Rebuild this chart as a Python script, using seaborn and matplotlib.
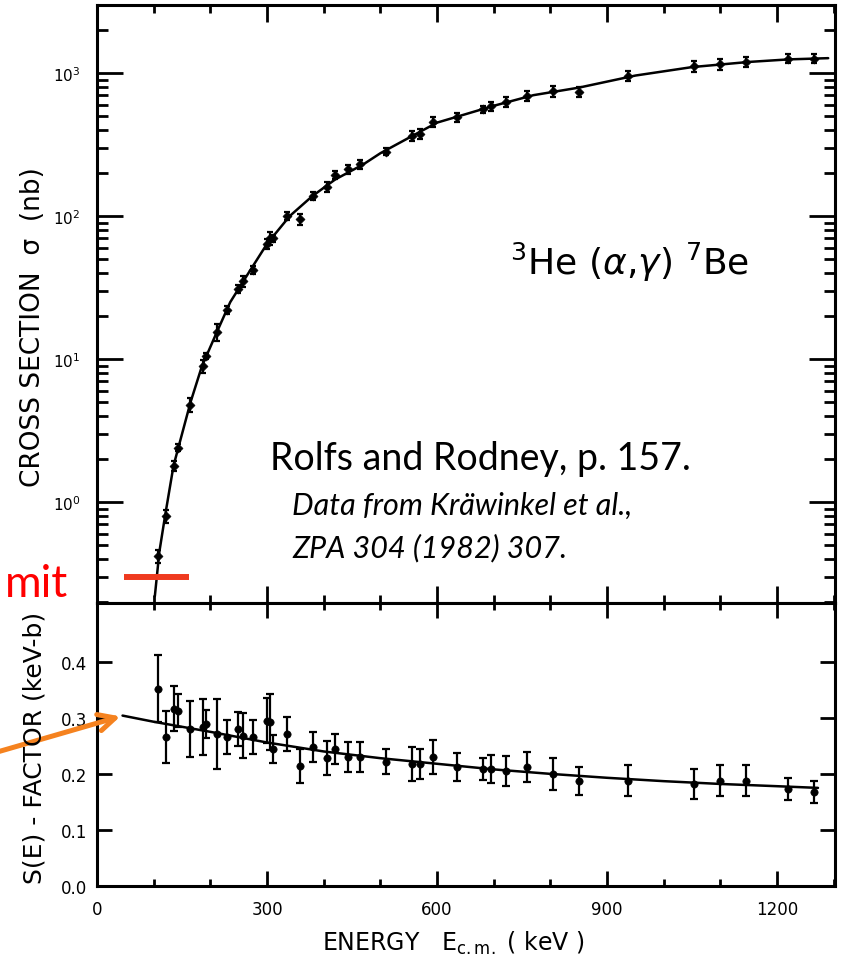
import numpy as np
import matplotlib
matplotlib.use("Agg")
import matplotlib.pyplot as plt
import seaborn as sns
from matplotlib.ticker import (LogLocator, MultipleLocator, FixedLocator,
                               NullFormatter, LogFormatterMathtext,
                               FormatStrFormatter)


# data (Kräwinkel et al. 1982)
energy = [108, 122, 136, 143, 164, 187, 192, 211, 230, 249, 258, 275, 300, 305,
          311, 335, 358, 381, 406, 420, 443, 464, 510, 556, 570, 593, 635, 681,
          695, 722, 759, 805, 850, 937, 1054, 1099, 1145, 1219, 1265]

sigma = [0.42, 0.80, 1.8, 2.4, 4.8, 8.9, 10.5, 15.5, 22, 31, 35, 42, 64, 70,
         70, 100, 95, 138, 160, 195, 212, 230, 282, 362, 375, 457, 490, 560,
         585, 631, 692, 745, 740, 955, 1120, 1150, 1200, 1260, 1260]

s_factor = [0.352, 0.266, 0.316, 0.313, 0.280, 0.284, 0.289, 0.271, 0.266, 0.280,
            0.268, 0.266, 0.295, 0.293, 0.245, 0.271, 0.214, 0.248, 0.228, 0.245,
            0.230, 0.230, 0.222, 0.218, 0.218, 0.230, 0.212, 0.209, 0.209, 0.205,
            0.212, 0.200, 0.188, 0.188, 0.182, 0.188, 0.188, 0.173, 0.168]

s_err = [0.060, 0.047, 0.040, 0.030, 0.050, 0.050, 0.025, 0.062, 0.030, 0.030,
         0.040, 0.030, 0.040, 0.050, 0.025, 0.030, 0.030, 0.027, 0.030, 0.027,
         0.027, 0.027, 0.022, 0.030, 0.027, 0.030, 0.025, 0.020, 0.025, 0.027,
         0.027, 0.028, 0.025, 0.027, 0.027, 0.027, 0.027, 0.020, 0.020]

# fitted curves
curve_e = [102, 110, 120, 135, 150, 165, 185, 210, 235, 260, 300, 340, 380, 420,
           470, 500, 560, 600, 650, 700, 770, 850, 950, 1050, 1150, 1220, 1290]
curve_sigma = [0.22, 0.45, 0.8, 1.8, 3.0, 5.0, 8.9, 15, 25, 36, 64, 100, 138, 180,
               230, 275, 370, 450, 515, 590, 700, 790, 960, 1100, 1195, 1245, 1270]

curve_s_e = [45, 100, 200, 300, 400, 500, 600, 700, 800, 900, 1000, 1100, 1200, 1272]
curve_s = [0.304, 0.293, 0.275, 0.256, 0.240, 0.228, 0.218, 0.208, 0.200, 0.193,
           0.187, 0.182, 0.178, 0.175]

s_ticks = [0.0, 0.1, 0.2, 0.3, 0.4]

# annotations
limit_e = [48, 162]
limit_sigma = [0.3, 0.3]
arrow_tip = (46, 0.304)
arrow_tail = (-200, 0.232)


sns.set_theme(style="ticks")
plt.rcParams["font.family"] = ["DejaVu Sans"]
plt.rcParams["axes.linewidth"] = 2.2
plt.rcParams["text.color"] = "black"
plt.rcParams["axes.edgecolor"] = "black"
plt.rcParams["xtick.color"] = "black"
plt.rcParams["ytick.color"] = "black"

fig = plt.figure(figsize=(8.43, 9.62), dpi=100)
ax1 = fig.add_axes([0.1151, 0.3721, 0.8754, 0.6217])
ax2 = fig.add_axes([0.1151, 0.0780, 0.8754, 0.2942])


# cross section panel
rel = np.array(s_err) / np.array(s_factor)
sig = np.array(sigma)
ax1.errorbar(energy, sig, yerr=[sig * rel * 0.6, sig * rel * 0.6], fmt="none",
             ecolor="black", elinewidth=1.6, capsize=2.5, capthick=1.6)
sns.lineplot(x=curve_e, y=curve_sigma, ax=ax1, color="black", lw=1.8,
             sort=False, estimator=None)
sns.scatterplot(x=energy, y=sigma, ax=ax1, color="black", marker="D", s=22,
                edgecolor="black", zorder=3)

ax1.plot(limit_e, limit_sigma, color="#ef3a1f", lw=4.3, solid_capstyle="butt")

ax1.set_yscale("log")
ax1.set_xlim(0, 1302)
ax1.set_ylim(0.197, 2990)
ax1.yaxis.set_major_locator(LogLocator(base=10, numticks=10))
ax1.yaxis.set_minor_locator(LogLocator(base=10, subs=np.arange(2, 10), numticks=20))
ax1.yaxis.set_major_formatter(LogFormatterMathtext())
ax1.yaxis.set_minor_formatter(NullFormatter())
ax1.xaxis.set_major_locator(MultipleLocator(300))
ax1.xaxis.set_minor_locator(MultipleLocator(100))

ax1.tick_params(which="both", direction="in", top=True, right=True,
                labelbottom=False, width=2)
ax1.tick_params(axis="y", which="major", length=19, labelsize=11, pad=12)
ax1.tick_params(axis="y", which="minor", length=8)
ax1.tick_params(axis="x", which="major", length=12)
ax1.tick_params(axis="x", which="minor", length=6)
ax1.set_xlabel("")
ax1.set_ylabel("")


# S-factor panel
ax2.errorbar(energy, s_factor, yerr=s_err, fmt="none", ecolor="black",
             elinewidth=1.6, capsize=3, capthick=1.6)
sns.lineplot(x=curve_s_e, y=curve_s, ax=ax2, color="black", lw=1.8,
             sort=False, estimator=None)
sns.scatterplot(x=energy, y=s_factor, ax=ax2, color="black", marker="o", s=28,
                edgecolor="black", zorder=3)

ax2.set_xlim(0, 1302)
ax2.set_ylim(0, 0.505)
ax2.xaxis.set_major_locator(MultipleLocator(300))
ax2.xaxis.set_minor_locator(MultipleLocator(100))
ax2.yaxis.set_major_locator(FixedLocator(s_ticks))
ax2.yaxis.set_major_formatter(FormatStrFormatter("%.1f"))

ax2.tick_params(which="both", direction="in", top=True, right=True, width=2)
ax2.tick_params(axis="y", which="major", length=11, labelsize=12, pad=7)
ax2.tick_params(axis="x", which="major", length=11, labelsize=12, pad=10)
ax2.tick_params(axis="x", which="minor", length=5)
ax2.set_xlabel("")
ax2.set_ylabel("")

ax2.annotate("", xy=arrow_tip, xytext=arrow_tail,
             arrowprops=dict(arrowstyle="->", color="#f5821f", lw=3.6,
                             mutation_scale=30),
             annotation_clip=False)


# labels
fig.text(0.039, 0.660, "CROSS SECTION  σ  (nb)", rotation=90, fontsize=19,
         ha="center", va="center")
fig.text(0.0415, 0.2225, "S(E) - FACTOR (keV-b)", rotation=90, fontsize=18,
         ha="center", va="center")
fig.text(0.382, 0.0198, r"ENERGY   E$_{\rm c.m.}$ ( keV )", fontsize=17,
         ha="left", va="center")

fig.text(510 / 843, 1 - 275 / 962, r"$^{3}$He ($\alpha$,$\gamma$) $^{7}$Be",
         fontsize=26, ha="left", va="baseline")

fig.text(270 / 843, 1 - 470 / 962, "Rolfs and Rodney, p. 157.", fontsize=27,
         family=["Lato", "DejaVu Sans"], ha="left", va="baseline")
fig.text(292 / 843, 1 - 515 / 962, "Data from Kräwinkel et al.,", fontsize=22,
         style="italic", family=["Lato", "DejaVu Sans"], ha="left", va="baseline")
fig.text(292 / 843, 1 - 557 / 962, "ZPA 304 (1982) 307.", fontsize=22,
         style="italic", family=["Lato", "DejaVu Sans"], ha="left", va="baseline")

# only the tail of the slide's red caption is visible at the left edge
fig.text(68 / 843, 1 - 597 / 962, "mit", fontsize=32, color="#ff0000",
         family=["Lato", "DejaVu Sans"], ha="right", va="baseline")

fig.savefig("out.png", dpi=100)
